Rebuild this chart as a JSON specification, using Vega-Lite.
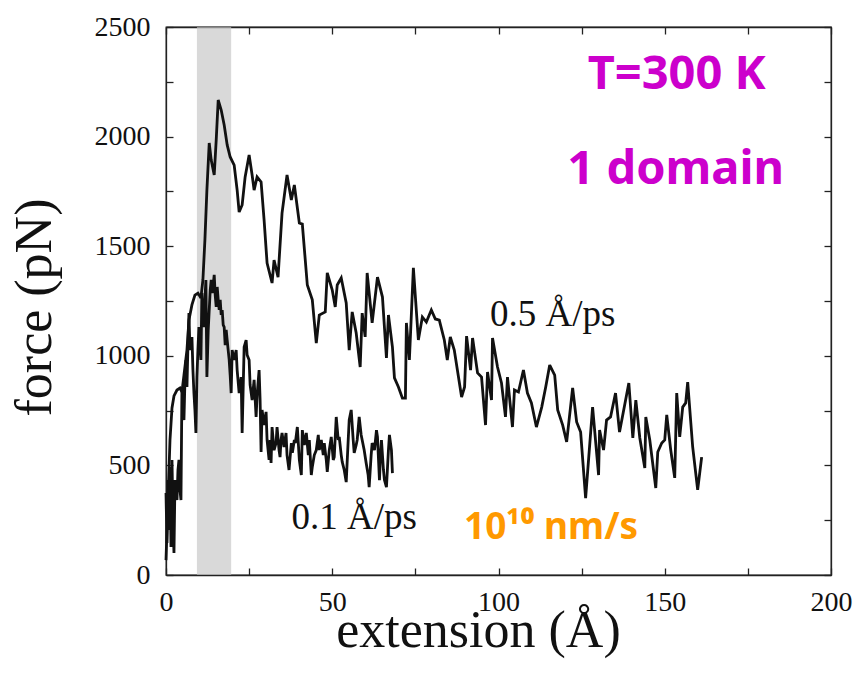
{
  "$schema": "https://vega.github.io/schema/vega-lite/v6.json",
  "width": 665,
  "height": 548,
  "autosize": {"type": "none"},
  "padding": {"left": 166, "top": 27, "right": 24, "bottom": 117},
  "background": "white",
  "config": {
    "view": {"stroke": "#222", "strokeWidth": 1.3},
    "axis": {
      "domainColor": "#222", "domainWidth": 1.3, "tickColor": "#222", "tickWidth": 1.3,
      "tickSize": -7, "grid": false, "labelFont": "Liberation Serif", "labelFontSize": 28,
      "labelColor": "#111", "labelFlush": false, "titleFont": "Liberation Serif", "titleFontSize": 52,
      "titleFontWeight": "normal", "titleColor": "#111"
    }
  },
  "datasets": {
    "curves": [
      {"speed": "0.5", "ext": 0.0, "force": 68}, {"speed": "0.5", "ext": 0.6, "force": 342}, {"speed": "0.5", "ext": 1.2, "force": 616}, {"speed": "0.5", "ext": 1.8, "force": 762}, {"speed": "0.5", "ext": 2.4, "force": 817}, {"speed": "0.5", "ext": 3.3, "force": 844}, {"speed": "0.5", "ext": 4.2, "force": 853}, {"speed": "0.5", "ext": 4.8, "force": 835}, {"speed": "0.5", "ext": 5.4, "force": 912}, {"speed": "0.5", "ext": 6.3, "force": 1026}, {"speed": "0.5", "ext": 6.9, "force": 1163}, {"speed": "0.5", "ext": 7.8, "force": 1232}, {"speed": "0.5", "ext": 8.7, "force": 1277}, {"speed": "0.5", "ext": 9.6, "force": 1286}, {"speed": "0.5", "ext": 10.5, "force": 1264}, {"speed": "0.5", "ext": 11.1, "force": 1346}, {"speed": "0.5", "ext": 11.7, "force": 1528}, {"speed": "0.5", "ext": 12.3, "force": 1756}, {"speed": "0.5", "ext": 13.0, "force": 1971}, {"speed": "0.5", "ext": 13.6, "force": 1893}, {"speed": "0.5", "ext": 14.5, "force": 1825}, {"speed": "0.5", "ext": 15.1, "force": 1984}, {"speed": "0.5", "ext": 15.7, "force": 2167}, {"speed": "0.5", "ext": 16.6, "force": 2121}, {"speed": "0.5", "ext": 17.5, "force": 2053}, {"speed": "0.5", "ext": 18.4, "force": 1962}, {"speed": "0.5", "ext": 19.3, "force": 1907}, {"speed": "0.5", "ext": 20.5, "force": 1870}, {"speed": "0.5", "ext": 21.4, "force": 1756}, {"speed": "0.5", "ext": 22.0, "force": 1656}, {"speed": "0.5", "ext": 22.9, "force": 1688}, {"speed": "0.5", "ext": 23.8, "force": 1816}, {"speed": "0.5", "ext": 25.0, "force": 1916}, {"speed": "0.5", "ext": 25.9, "force": 1825}, {"speed": "0.5", "ext": 26.5, "force": 1756}, {"speed": "0.5", "ext": 27.4, "force": 1816}, {"speed": "0.5", "ext": 28.6, "force": 1793}, {"speed": "0.5", "ext": 29.5, "force": 1620}, {"speed": "0.5", "ext": 30.4, "force": 1423}, {"speed": "0.5", "ext": 31.9, "force": 1332}, {"speed": "0.5", "ext": 32.5, "force": 1437}, {"speed": "0.5", "ext": 33.7, "force": 1359}, {"speed": "0.5", "ext": 34.9, "force": 1651}, {"speed": "0.5", "ext": 36.4, "force": 1825}, {"speed": "0.5", "ext": 37.7, "force": 1711}, {"speed": "0.5", "ext": 38.6, "force": 1779}, {"speed": "0.5", "ext": 40.1, "force": 1606}, {"speed": "0.5", "ext": 41.0, "force": 1601}, {"speed": "0.5", "ext": 42.5, "force": 1323}, {"speed": "0.5", "ext": 44.0, "force": 1255}, {"speed": "0.5", "ext": 45.2, "force": 1058}, {"speed": "0.5", "ext": 46.1, "force": 1186}, {"speed": "0.5", "ext": 47.9, "force": 1200}, {"speed": "0.5", "ext": 48.5, "force": 1378}, {"speed": "0.5", "ext": 50.0, "force": 1300}, {"speed": "0.5", "ext": 50.9, "force": 1223}, {"speed": "0.5", "ext": 51.5, "force": 1323}, {"speed": "0.5", "ext": 52.7, "force": 1355}, {"speed": "0.5", "ext": 54.2, "force": 1241}, {"speed": "0.5", "ext": 55.1, "force": 1026}, {"speed": "0.5", "ext": 56.0, "force": 1200}, {"speed": "0.5", "ext": 57.2, "force": 1104}, {"speed": "0.5", "ext": 58.4, "force": 949}, {"speed": "0.5", "ext": 59.0, "force": 1195}, {"speed": "0.5", "ext": 59.9, "force": 1086}, {"speed": "0.5", "ext": 60.5, "force": 1378}, {"speed": "0.5", "ext": 62.0, "force": 1150}, {"speed": "0.5", "ext": 63.6, "force": 1359}, {"speed": "0.5", "ext": 65.1, "force": 1268}, {"speed": "0.5", "ext": 66.3, "force": 990}, {"speed": "0.5", "ext": 66.9, "force": 1186}, {"speed": "0.5", "ext": 68.1, "force": 1040}, {"speed": "0.5", "ext": 68.7, "force": 899}, {"speed": "0.5", "ext": 69.9, "force": 858}, {"speed": "0.5", "ext": 71.1, "force": 807}, {"speed": "0.5", "ext": 72.0, "force": 807}, {"speed": "0.5", "ext": 72.3, "force": 1150}, {"speed": "0.5", "ext": 73.2, "force": 981}, {"speed": "0.5", "ext": 74.4, "force": 1401}, {"speed": "0.5", "ext": 75.9, "force": 1072}, {"speed": "0.5", "ext": 77.1, "force": 1177}, {"speed": "0.5", "ext": 78.3, "force": 1154}, {"speed": "0.5", "ext": 79.8, "force": 1209}, {"speed": "0.5", "ext": 81.0, "force": 1168}, {"speed": "0.5", "ext": 82.2, "force": 1163}, {"speed": "0.5", "ext": 83.7, "force": 1072}, {"speed": "0.5", "ext": 84.6, "force": 981}, {"speed": "0.5", "ext": 85.5, "force": 1086}, {"speed": "0.5", "ext": 86.7, "force": 1026}, {"speed": "0.5", "ext": 88.9, "force": 812}, {"speed": "0.5", "ext": 89.8, "force": 858}, {"speed": "0.5", "ext": 90.4, "force": 1090}, {"speed": "0.5", "ext": 91.6, "force": 935}, {"speed": "0.5", "ext": 92.2, "force": 1081}, {"speed": "0.5", "ext": 93.7, "force": 922}, {"speed": "0.5", "ext": 94.9, "force": 903}, {"speed": "0.5", "ext": 96.1, "force": 684}, {"speed": "0.5", "ext": 96.7, "force": 926}, {"speed": "0.5", "ext": 97.9, "force": 798}, {"speed": "0.5", "ext": 98.2, "force": 1081}, {"speed": "0.5", "ext": 99.7, "force": 949}, {"speed": "0.5", "ext": 100.9, "force": 876}, {"speed": "0.5", "ext": 102.1, "force": 721}, {"speed": "0.5", "ext": 102.7, "force": 903}, {"speed": "0.5", "ext": 104.2, "force": 675}, {"speed": "0.5", "ext": 104.8, "force": 844}, {"speed": "0.5", "ext": 106.0, "force": 835}, {"speed": "0.5", "ext": 107.5, "force": 935}, {"speed": "0.5", "ext": 108.7, "force": 830}, {"speed": "0.5", "ext": 109.9, "force": 785}, {"speed": "0.5", "ext": 111.4, "force": 675}, {"speed": "0.5", "ext": 113.0, "force": 766}, {"speed": "0.5", "ext": 114.2, "force": 858}, {"speed": "0.5", "ext": 115.4, "force": 958}, {"speed": "0.5", "ext": 116.9, "force": 912}, {"speed": "0.5", "ext": 117.8, "force": 753}, {"speed": "0.5", "ext": 119.3, "force": 684}, {"speed": "0.5", "ext": 120.5, "force": 607}, {"speed": "0.5", "ext": 122.3, "force": 853}, {"speed": "0.5", "ext": 123.5, "force": 698}, {"speed": "0.5", "ext": 124.7, "force": 652}, {"speed": "0.5", "ext": 126.2, "force": 351}, {"speed": "0.5", "ext": 128.3, "force": 766}, {"speed": "0.5", "ext": 130.1, "force": 456}, {"speed": "0.5", "ext": 130.4, "force": 661}, {"speed": "0.5", "ext": 131.6, "force": 570}, {"speed": "0.5", "ext": 132.5, "force": 707}, {"speed": "0.5", "ext": 133.7, "force": 721}, {"speed": "0.5", "ext": 135.2, "force": 830}, {"speed": "0.5", "ext": 136.4, "force": 652}, {"speed": "0.5", "ext": 139.2, "force": 876}, {"speed": "0.5", "ext": 140.4, "force": 625}, {"speed": "0.5", "ext": 141.3, "force": 798}, {"speed": "0.5", "ext": 142.5, "force": 625}, {"speed": "0.5", "ext": 144.0, "force": 488}, {"speed": "0.5", "ext": 144.3, "force": 721}, {"speed": "0.5", "ext": 145.5, "force": 616}, {"speed": "0.5", "ext": 147.3, "force": 397}, {"speed": "0.5", "ext": 147.9, "force": 561}, {"speed": "0.5", "ext": 149.1, "force": 602}, {"speed": "0.5", "ext": 150.0, "force": 616}, {"speed": "0.5", "ext": 150.6, "force": 730}, {"speed": "0.5", "ext": 151.8, "force": 570}, {"speed": "0.5", "ext": 153.0, "force": 443}, {"speed": "0.5", "ext": 153.6, "force": 830}, {"speed": "0.5", "ext": 154.5, "force": 630}, {"speed": "0.5", "ext": 155.4, "force": 766}, {"speed": "0.5", "ext": 156.3, "force": 785}, {"speed": "0.5", "ext": 156.9, "force": 880}, {"speed": "0.5", "ext": 158.4, "force": 584}, {"speed": "0.5", "ext": 159.9, "force": 388}, {"speed": "0.5", "ext": 161.1, "force": 538},
      {"speed": "0.1", "ext": 0.0, "force": 374}, {"speed": "0.1", "ext": 0.3, "force": 146}, {"speed": "0.1", "ext": 0.6, "force": 433}, {"speed": "0.1", "ext": 0.9, "force": 205}, {"speed": "0.1", "ext": 1.2, "force": 493}, {"speed": "0.1", "ext": 1.5, "force": 128}, {"speed": "0.1", "ext": 1.8, "force": 525}, {"speed": "0.1", "ext": 2.1, "force": 251}, {"speed": "0.1", "ext": 2.4, "force": 100}, {"speed": "0.1", "ext": 2.7, "force": 433}, {"speed": "0.1", "ext": 3.0, "force": 374}, {"speed": "0.1", "ext": 3.3, "force": 342}, {"speed": "0.1", "ext": 3.6, "force": 479}, {"speed": "0.1", "ext": 3.9, "force": 525}, {"speed": "0.1", "ext": 4.2, "force": 388}, {"speed": "0.1", "ext": 4.5, "force": 342}, {"speed": "0.1", "ext": 4.8, "force": 858}, {"speed": "0.1", "ext": 5.1, "force": 753}, {"speed": "0.1", "ext": 5.4, "force": 707}, {"speed": "0.1", "ext": 5.7, "force": 890}, {"speed": "0.1", "ext": 6.0, "force": 981}, {"speed": "0.1", "ext": 6.3, "force": 858}, {"speed": "0.1", "ext": 6.6, "force": 1049}, {"speed": "0.1", "ext": 6.9, "force": 1195}, {"speed": "0.1", "ext": 7.2, "force": 1026}, {"speed": "0.1", "ext": 7.5, "force": 1058}, {"speed": "0.1", "ext": 7.8, "force": 1086}, {"speed": "0.1", "ext": 8.1, "force": 935}, {"speed": "0.1", "ext": 8.4, "force": 830}, {"speed": "0.1", "ext": 8.7, "force": 753}, {"speed": "0.1", "ext": 9.0, "force": 648}, {"speed": "0.1", "ext": 9.3, "force": 903}, {"speed": "0.1", "ext": 9.6, "force": 1026}, {"speed": "0.1", "ext": 9.9, "force": 1131}, {"speed": "0.1", "ext": 10.2, "force": 1049}, {"speed": "0.1", "ext": 10.5, "force": 981}, {"speed": "0.1", "ext": 10.8, "force": 1286}, {"speed": "0.1", "ext": 11.1, "force": 1163}, {"speed": "0.1", "ext": 11.4, "force": 1131}, {"speed": "0.1", "ext": 11.7, "force": 1255}, {"speed": "0.1", "ext": 12.0, "force": 1346}, {"speed": "0.1", "ext": 12.3, "force": 903}, {"speed": "0.1", "ext": 12.7, "force": 1118}, {"speed": "0.1", "ext": 13.0, "force": 1209}, {"speed": "0.1", "ext": 13.3, "force": 1300}, {"speed": "0.1", "ext": 13.6, "force": 1346}, {"speed": "0.1", "ext": 13.9, "force": 1286}, {"speed": "0.1", "ext": 14.2, "force": 1323}, {"speed": "0.1", "ext": 14.5, "force": 1369}, {"speed": "0.1", "ext": 14.8, "force": 1277}, {"speed": "0.1", "ext": 15.1, "force": 1223}, {"speed": "0.1", "ext": 15.4, "force": 1314}, {"speed": "0.1", "ext": 15.7, "force": 1255}, {"speed": "0.1", "ext": 16.0, "force": 1209}, {"speed": "0.1", "ext": 16.3, "force": 1255}, {"speed": "0.1", "ext": 16.6, "force": 1186}, {"speed": "0.1", "ext": 16.9, "force": 1209}, {"speed": "0.1", "ext": 17.2, "force": 1141}, {"speed": "0.1", "ext": 17.5, "force": 1131}, {"speed": "0.1", "ext": 17.8, "force": 1049}, {"speed": "0.1", "ext": 18.1, "force": 1118}, {"speed": "0.1", "ext": 18.4, "force": 1072}, {"speed": "0.1", "ext": 18.7, "force": 1026}, {"speed": "0.1", "ext": 19.0, "force": 981}, {"speed": "0.1", "ext": 19.3, "force": 912}, {"speed": "0.1", "ext": 19.6, "force": 830}, {"speed": "0.1", "ext": 19.9, "force": 1026}, {"speed": "0.1", "ext": 20.5, "force": 981}, {"speed": "0.1", "ext": 21.1, "force": 1026}, {"speed": "0.1", "ext": 21.4, "force": 935}, {"speed": "0.1", "ext": 22.0, "force": 830}, {"speed": "0.1", "ext": 22.6, "force": 903}, {"speed": "0.1", "ext": 22.9, "force": 648}, {"speed": "0.1", "ext": 23.5, "force": 1040}, {"speed": "0.1", "ext": 24.1, "force": 1072}, {"speed": "0.1", "ext": 24.4, "force": 1004}, {"speed": "0.1", "ext": 25.0, "force": 981}, {"speed": "0.1", "ext": 25.3, "force": 867}, {"speed": "0.1", "ext": 25.9, "force": 798}, {"speed": "0.1", "ext": 26.5, "force": 890}, {"speed": "0.1", "ext": 27.1, "force": 721}, {"speed": "0.1", "ext": 27.4, "force": 821}, {"speed": "0.1", "ext": 28.0, "force": 935}, {"speed": "0.1", "ext": 28.3, "force": 798}, {"speed": "0.1", "ext": 28.6, "force": 561}, {"speed": "0.1", "ext": 28.9, "force": 753}, {"speed": "0.1", "ext": 29.5, "force": 684}, {"speed": "0.1", "ext": 30.1, "force": 744}, {"speed": "0.1", "ext": 30.4, "force": 616}, {"speed": "0.1", "ext": 31.0, "force": 525}, {"speed": "0.1", "ext": 31.3, "force": 616}, {"speed": "0.1", "ext": 31.6, "force": 511}, {"speed": "0.1", "ext": 31.9, "force": 675}, {"speed": "0.1", "ext": 32.5, "force": 570}, {"speed": "0.1", "ext": 33.1, "force": 602}, {"speed": "0.1", "ext": 33.4, "force": 675}, {"speed": "0.1", "ext": 34.0, "force": 570}, {"speed": "0.1", "ext": 34.3, "force": 538}, {"speed": "0.1", "ext": 34.6, "force": 616}, {"speed": "0.1", "ext": 34.9, "force": 648}, {"speed": "0.1", "ext": 35.5, "force": 584}, {"speed": "0.1", "ext": 36.1, "force": 648}, {"speed": "0.1", "ext": 36.4, "force": 547}, {"speed": "0.1", "ext": 37.0, "force": 479}, {"speed": "0.1", "ext": 37.7, "force": 602}, {"speed": "0.1", "ext": 38.0, "force": 557}, {"speed": "0.1", "ext": 38.6, "force": 616}, {"speed": "0.1", "ext": 38.9, "force": 602}, {"speed": "0.1", "ext": 39.5, "force": 675}, {"speed": "0.1", "ext": 40.1, "force": 525}, {"speed": "0.1", "ext": 40.7, "force": 456}, {"speed": "0.1", "ext": 41.0, "force": 661}, {"speed": "0.1", "ext": 41.6, "force": 593}, {"speed": "0.1", "ext": 42.2, "force": 648}, {"speed": "0.1", "ext": 42.8, "force": 547}, {"speed": "0.1", "ext": 43.1, "force": 616}, {"speed": "0.1", "ext": 43.7, "force": 456}, {"speed": "0.1", "ext": 44.0, "force": 493}, {"speed": "0.1", "ext": 44.6, "force": 547}, {"speed": "0.1", "ext": 45.2, "force": 570}, {"speed": "0.1", "ext": 45.8, "force": 639}, {"speed": "0.1", "ext": 46.1, "force": 570}, {"speed": "0.1", "ext": 46.7, "force": 616}, {"speed": "0.1", "ext": 47.3, "force": 547}, {"speed": "0.1", "ext": 47.6, "force": 602}, {"speed": "0.1", "ext": 48.2, "force": 525}, {"speed": "0.1", "ext": 48.5, "force": 470}, {"speed": "0.1", "ext": 49.1, "force": 570}, {"speed": "0.1", "ext": 49.7, "force": 630}, {"speed": "0.1", "ext": 50.3, "force": 525}, {"speed": "0.1", "ext": 50.6, "force": 538}, {"speed": "0.1", "ext": 51.2, "force": 721}, {"speed": "0.1", "ext": 51.8, "force": 616}, {"speed": "0.1", "ext": 52.1, "force": 630}, {"speed": "0.1", "ext": 52.7, "force": 547}, {"speed": "0.1", "ext": 53.0, "force": 516}, {"speed": "0.1", "ext": 53.6, "force": 479}, {"speed": "0.1", "ext": 54.2, "force": 424}, {"speed": "0.1", "ext": 54.8, "force": 616}, {"speed": "0.1", "ext": 55.1, "force": 707}, {"speed": "0.1", "ext": 55.7, "force": 753}, {"speed": "0.1", "ext": 56.3, "force": 616}, {"speed": "0.1", "ext": 56.6, "force": 557}, {"speed": "0.1", "ext": 57.2, "force": 593}, {"speed": "0.1", "ext": 57.5, "force": 616}, {"speed": "0.1", "ext": 58.1, "force": 721}, {"speed": "0.1", "ext": 58.7, "force": 639}, {"speed": "0.1", "ext": 59.0, "force": 616}, {"speed": "0.1", "ext": 59.6, "force": 570}, {"speed": "0.1", "ext": 60.2, "force": 511}, {"speed": "0.1", "ext": 60.8, "force": 456}, {"speed": "0.1", "ext": 61.1, "force": 401}, {"speed": "0.1", "ext": 61.7, "force": 547}, {"speed": "0.1", "ext": 62.0, "force": 602}, {"speed": "0.1", "ext": 62.7, "force": 570}, {"speed": "0.1", "ext": 63.3, "force": 661}, {"speed": "0.1", "ext": 63.6, "force": 630}, {"speed": "0.1", "ext": 64.2, "force": 433}, {"speed": "0.1", "ext": 64.5, "force": 547}, {"speed": "0.1", "ext": 64.8, "force": 616}, {"speed": "0.1", "ext": 65.4, "force": 479}, {"speed": "0.1", "ext": 65.7, "force": 433}, {"speed": "0.1", "ext": 66.3, "force": 401}, {"speed": "0.1", "ext": 66.9, "force": 570}, {"speed": "0.1", "ext": 67.2, "force": 639}, {"speed": "0.1", "ext": 67.8, "force": 570}, {"speed": "0.1", "ext": 68.1, "force": 465}
    ],
    "band": [{"start": 9.3, "end": 19.6, "low": 0, "high": 2500}],
    "magenta": [
      {"ext": 153.6, "force": 2281, "text": "T=300 K"},
      {"ext": 153.3, "force": 1848, "text": "1 domain"}
    ],
    "speeds": [
      {"ext": 116.3, "force": 1186, "text": "0.5 Å/ps"},
      {"ext": 56.6, "force": 260, "text": "0.1 Å/ps"}
    ],
    "units": [{"ext": 115.8, "force": 215, "text": "10¹⁰ nm/s"}]
  },
  "resolve": {"axis": {"x": "independent", "y": "independent"}},
  "layer": [
    {
      "data": {"name": "band"},
      "mark": {"type": "rect", "fill": "#c4c4c4", "opacity": 0.65},
      "encoding": {
        "x": {"field": "start", "type": "quantitative", "scale": {"domain": [0, 200], "nice": false},
              "axis": {"orient": "top", "values": [0,25,50,75,100,125,150,175,200], "labels": false, "title": null}},
        "x2": {"field": "end"},
        "y": {"field": "low", "type": "quantitative", "scale": {"domain": [0, 2500], "nice": false},
              "axis": {"orient": "right", "values": [0,250,500,750,1000,1250,1500,1750,2000,2250,2500], "labels": false, "title": null}},
        "y2": {"field": "high"}
      }
    },
    {
      "data": {"name": "curves"},
      "mark": {"type": "line", "color": "#111", "strokeWidth": 2.8, "strokeJoin": "miter", "strokeMiterLimit": 3},
      "encoding": {
        "x": {"field": "ext", "type": "quantitative", "scale": {"domain": [0, 200], "nice": false},
              "axis": {"orient": "bottom", "values": [0,25,50,75,100,125,150,175,200],
                       "labelExpr": "datum.value % 50 === 0 ? datum.label : ''",
                       "labelPadding": 20, "title": "extension (Å)",
                       "titleX": 312, "titleY": 71, "titleAlign": "center", "titleBaseline": "alphabetic"}},
        "y": {"field": "force", "type": "quantitative", "scale": {"domain": [0, 2500], "nice": false},
              "axis": {"orient": "left", "values": [0,250,500,750,1000,1250,1500,1750,2000,2250,2500],
                       "labelExpr": "datum.value % 500 === 0 ? datum.label : ''", "format": "d",
                       "labelPadding": 23, "title": "force (pN)",
                       "titleX": -116, "titleY": 280, "titleAlign": "center", "titleBaseline": "alphabetic"}},
        "detail": {"field": "speed"}
      }
    },
    {
      "data": {"name": "magenta"},
      "mark": {"type": "text", "color": "#cc00cc", "font": "Noto Sans", "fontWeight": "bold", "fontSize": 47, "align": "center", "baseline": "middle"},
      "encoding": {
        "x": {"field": "ext", "type": "quantitative", "axis": null},
        "y": {"field": "force", "type": "quantitative", "axis": null},
        "text": {"field": "text"}
      }
    },
    {
      "data": {"name": "speeds"},
      "mark": {"type": "text", "color": "#111", "font": "Liberation Serif", "fontSize": 37, "align": "center", "baseline": "middle"},
      "encoding": {
        "x": {"field": "ext", "type": "quantitative", "axis": null},
        "y": {"field": "force", "type": "quantitative", "axis": null},
        "text": {"field": "text"}
      }
    },
    {
      "data": {"name": "units"},
      "mark": {"type": "text", "color": "#ff9900", "font": "Noto Sans", "fontWeight": "bold", "fontSize": 37, "align": "center", "baseline": "middle"},
      "encoding": {
        "x": {"field": "ext", "type": "quantitative", "axis": null},
        "y": {"field": "force", "type": "quantitative", "axis": null},
        "text": {"field": "text"}
      }
    }
  ]
}
